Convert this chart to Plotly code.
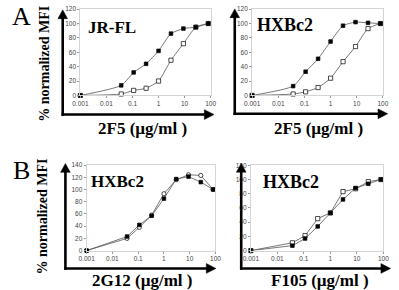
import plotly.graph_objects as go

W, H = 399, 290

# ---- data ----
conc = [0.001, 0.037, 0.111, 0.333, 1, 3, 9, 27, 81]

a1_filled = [0, 14, 32, 44, 62, 86, 93, 95, 100]
a1_open = [0, 2, 7, 10, 20, 49, 72, 95, 100]

a2_filled = [0, 13, 33, 51, 75, 97, 102, 101, 100]
a2_open = [0, 2, 5, 11, 24, 47, 68, 93, 100]

b1_filled = [0, 23, 42, 57, 85, 117, 121, 112, 100]
b1_open = [0, 20, 38, 58, 93, 116, 124, 123, 100]

b2_filled = [0, 7, 17, 34, 53, 72, 88, 94, 100]
b2_open = [0, 11, 21, 45, 53, 83, 87, 97, 100]

x_tickvals = [0.001, 0.01, 0.1, 1, 10, 100]
x_ticktext = ["0.001", "0.01", "0.1", "1", "10", "100"]

panel_titles = ["JR-FL", "HXBc2", "HXBc2", "HXBc2"]
x_titles = ["2F5 (µg/ml )", "2F5 (µg/ml )", "2G12 (µg/ml )", "F105 (µg/ml )"]
y_title = "% normalized MFI"


def px(x):
    return x / W


def py(y):
    return 1 - y / H


SERIF = "'Liberation Serif', 'Times New Roman', 'DejaVu Serif', serif"
SANS = "'Liberation Sans', Arial, sans-serif"

# panel layout: (x0px, x1px, y_bottom_px, y_top_px, ymax, ystep, spline, open_symbol)
panels = [
    (75, 210, 93.7, 5.3, 120, 20, True, "square-open"),
    (253, 388.5, 93.7, 5.3, 120, 20, True, "square-open"),
    (81.5, 215, 252.7, 165, 140, 20, False, "circle-open"),
    (251.7, 389, 252.7, 165.3, 120, 20, False, "square-open"),
]
series = [
    (a1_filled, a1_open),
    (a2_filled, a2_open),
    (b1_filled, b1_open),
    (b2_filled, b2_open),
]

fig = go.Figure()
layout = dict(
    width=W, height=H, autosize=False,
    margin=dict(l=0, r=0, t=0, b=0),
    paper_bgcolor="white", plot_bgcolor="white",
    showlegend=False,
)

for i, ((x0, x1, yb, yt, ymax, ystep, spline, osym), (f, o)) in enumerate(zip(panels, series)):
    n = "" if i == 0 else str(i + 1)
    xa, ya = "x" + n, "y" + n
    shape = "spline" if spline else "linear"
    for vals, sym, fill in ((o, osym, "white"), (f, "square", "black")):
        fig.add_trace(go.Scatter(
            x=conc, y=vals, xaxis=xa, yaxis=ya, mode="lines+markers",
            line=dict(color="#555555", width=0.8, shape=shape, smoothing=0.6),
            marker=dict(symbol="square" if sym == "square" else sym.replace("-open", ""),
                        size=3.6 if sym == "square" else 4.2,
                        color=fill, line=dict(color="black", width=0.7)),
            cliponaxis=False,
        ))
    axcommon = dict(showgrid=False, zeroline=False, showline=True, mirror=True,
                    linecolor="#d4d4d4", linewidth=1, ticks="outside", ticklen=2,
                    tickcolor="#999", tickfont=dict(family=SANS, size=6.5, color="#444"))
    layout["xaxis" + n] = dict(
        axcommon, type="log", range=[-3, 2], domain=[px(x0), px(x1)], anchor=ya,
        tickvals=x_tickvals, ticktext=x_ticktext)
    layout["yaxis" + n] = dict(
        axcommon, range=[0, ymax], domain=[py(yb), py(yt)], anchor=xa,
        tickvals=list(range(0, ymax + 1, ystep)))

fig.update_layout(**layout)

# ---- big arrow axes (paper coords) ----
shapes = []
LW = 2.6


def arrow_up(x, ybot, ytip):
    shapes.append(dict(type="line", xref="paper", yref="paper",
                       x0=px(x), x1=px(x), y0=py(ybot + 1.3), y1=py(ytip + 7),
                       line=dict(color="black", width=LW)))
    shapes.append(dict(type="path", xref="paper", yref="paper",
                       path=f"M {px(x-5)} {py(ytip+9)} L {px(x+5)} {py(ytip+9)} L {px(x)} {py(ytip)} Z",
                       fillcolor="black", line=dict(color="black", width=0.5)))


def arrow_right(y, xl, xtip):
    shapes.append(dict(type="line", xref="paper", yref="paper",
                       x0=px(xl - 1.3), x1=px(xtip - 7), y0=py(y), y1=py(y),
                       line=dict(color="black", width=LW)))
    shapes.append(dict(type="path", xref="paper", yref="paper",
                       path=f"M {px(xtip-10)} {py(y-5)} L {px(xtip-10)} {py(y+5)} L {px(xtip)} {py(y)} Z",
                       fillcolor="black", line=dict(color="black", width=0.5)))


for (xv, yb_, yt_, xtip) in [(56.7, 113.3, 6, 213.5), (235, 112.5, 5, 393.5),
                             (59.5, 271, 163.5, 215.5), (241.7, 271, 163.3, 396.5)]:
    arrow_up(xv, yb_, yt_)
    arrow_right(yb_, xv, xtip)

fig.update_layout(shapes=shapes)

# ---- texts ----
ann = []


def text(x, y, s, size, bold=True, angle=0):
    ann.append(dict(xref="paper", yref="paper", x=px(x), y=py(y), text=(f"<b>{s}</b>" if bold else s),
                    showarrow=False, xanchor="center", yanchor="middle", textangle=angle,
                    font=dict(family=SERIF, size=size, color="black")))


text(14, 12.5, "A", 26, bold=False)
text(14, 171, "B", 26, bold=False)
text(37, 61.5, y_title, 14, angle=-90)
text(36, 218, y_title, 14, angle=-90)

title_pos = [(108, 24, 17), (287.5, 22, 18), (113.3, 181.7, 17), (293.3, 182, 18)]
for (tx, ty, ts), s in zip(title_pos, panel_titles):
    text(tx, ty, s, ts)

xt_pos = [(139, 127.5), (321.7, 127.5), (139, 283.3), (323.3, 283)]
for (tx, ty), s in zip(xt_pos, x_titles):
    text(tx, ty, s, 17)

fig.update_layout(annotations=ann)

fig.write_html("out.html")
